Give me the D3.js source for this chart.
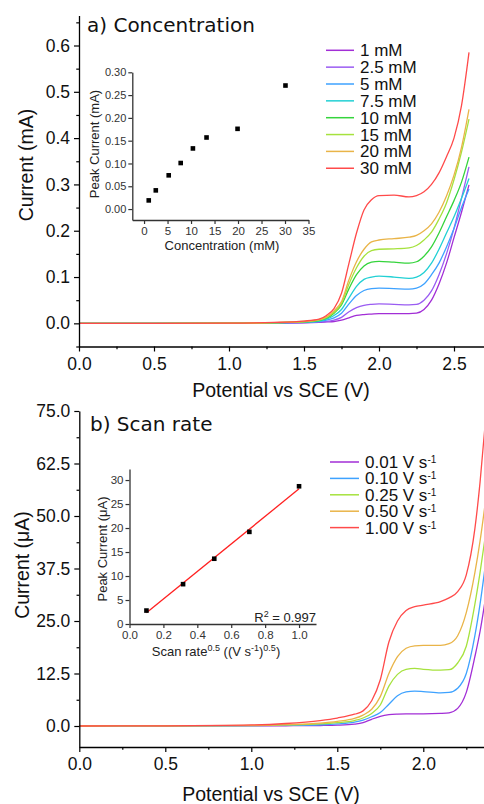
<!DOCTYPE html>
<html lang="en">
<head>
  <meta charset="UTF-8">
  <title>Concentration and scan rate</title>
  <script src="https://d3js.org/d3.v7.min.js"></script>
  <style>
    body { margin: 0; background: #fff; }
    svg { display: block; font-family: "Liberation Sans", Arial, sans-serif; }
  </style>
</head>
<body>
  <div id="chart"></div>
  <script>
    // ---- panel a) concentration : potential (V) vs current (mA)
    var topPotential = [0, 0.5, 1.0, 1.3, 1.5, 1.6, 1.65, 1.7, 1.75, 1.8, 1.85, 1.9, 1.95, 2.0, 2.1, 2.2, 2.25, 2.3, 2.35, 2.4, 2.45, 2.5, 2.55, 2.6];
    var conc1 = [0, 0, 0.0001, 0.0005, 0.001, 0.002, 0.003, 0.004, 0.007, 0.012, 0.017, 0.019, 0.020, 0.021, 0.021, 0.021, 0.022, 0.030, 0.050, 0.085, 0.130, 0.185, 0.240, 0.299];
    var conc2_5 = [0, 0, 0.0001, 0.0005, 0.0015, 0.003, 0.004, 0.007, 0.013, 0.025, 0.034, 0.039, 0.041, 0.042, 0.041, 0.040, 0.041, 0.050, 0.070, 0.105, 0.150, 0.205, 0.270, 0.338];
    var conc5 = [0, 0, 0.0002, 0.001, 0.002, 0.004, 0.007, 0.012, 0.022, 0.042, 0.060, 0.071, 0.075, 0.076, 0.075, 0.074, 0.076, 0.085, 0.105, 0.130, 0.165, 0.205, 0.250, 0.290];
    var conc7_5 = [0, 0, 0.0002, 0.001, 0.003, 0.005, 0.009, 0.017, 0.030, 0.055, 0.080, 0.095, 0.100, 0.102, 0.100, 0.097, 0.100, 0.110, 0.130, 0.160, 0.195, 0.230, 0.270, 0.313];
    var conc10 = [0, 0, 0.0003, 0.001, 0.003, 0.006, 0.011, 0.022, 0.040, 0.075, 0.105, 0.124, 0.132, 0.134, 0.132, 0.130, 0.133, 0.145, 0.165, 0.195, 0.230, 0.265, 0.305, 0.359];
    var conc15 = [0, 0, 0.0003, 0.0015, 0.004, 0.007, 0.013, 0.024, 0.043, 0.085, 0.120, 0.145, 0.157, 0.160, 0.161, 0.163, 0.168, 0.180, 0.197, 0.225, 0.260, 0.310, 0.370, 0.441];
    var conc20 = [0, 0, 0.0003, 0.0015, 0.004, 0.008, 0.014, 0.027, 0.047, 0.094, 0.133, 0.160, 0.176, 0.180, 0.183, 0.186, 0.190, 0.200, 0.215, 0.240, 0.275, 0.320, 0.380, 0.462];
    var conc30 = [0, 0, 0.0005, 0.002, 0.005, 0.009, 0.017, 0.032, 0.065, 0.130, 0.195, 0.245, 0.267, 0.276, 0.277, 0.273, 0.276, 0.284, 0.300, 0.325, 0.360, 0.400, 0.470, 0.585];
    var concLabels = ["1 mM", "2.5 mM", "5 mM", "7.5 mM", "10 mM", "15 mM", "20 mM", "30 mM"];
    var concColors = ["#a22ed6", "#9a5cf2", "#3ea2ff", "#22d0d4", "#35d43c", "#a6e23e", "#e9b448", "#ff4a4a"];

    // inset a) peak current vs concentration
    var insetConc = [1, 2.5, 5.25, 7.8, 10.4, 13.3, 19.9, 30.1];
    var insetPeakMA = [0.019, 0.041, 0.074, 0.101, 0.133, 0.157, 0.176, 0.271];

    // ---- panel b) scan rate : potential (V) vs current (uA)
    var botPotential = [0, 0.5, 1.0, 1.2, 1.4, 1.5, 1.6, 1.65, 1.7, 1.75, 1.8, 1.85, 1.9, 1.95, 2.0, 2.1, 2.15, 2.2, 2.25, 2.3, 2.33, 2.36];
    var rate001 = [0, 0, 0.03, 0.06, 0.12, 0.2, 0.45, 0.8, 1.6, 2.3, 2.7, 2.85, 2.9, 2.9, 2.9, 3.0, 3.15, 4.2, 8.0, 16.5, 22.5, 30.0];
    var rate010 = [0, 0.01, 0.07, 0.15, 0.3, 0.5, 0.9, 1.4, 2.2, 3.2, 5.2, 7.2, 8.1, 8.3, 8.2, 7.9, 8.0, 9.0, 12.5, 21.5, 29.0, 38.0];
    var rate025 = [0, 0.02, 0.1, 0.25, 0.5, 0.8, 1.3, 1.9, 3.0, 5.0, 9.5, 12.3, 13.5, 13.7, 13.5, 13.3, 13.4, 15.0, 19.0, 29.0, 36.5, 45.0];
    var rate050 = [0, 0.03, 0.15, 0.35, 0.7, 1.1, 1.8, 2.6, 4.0, 7.0, 12.5, 16.5, 18.5, 19.1, 19.2, 19.2, 19.6, 21.5, 27.0, 36.5, 44.0, 53.0];
    var rate100 = [0, 0.05, 0.25, 0.6, 1.3, 1.9, 2.8, 3.6, 6.0, 11.0, 20.0, 25.0, 27.5, 28.4, 28.8, 29.6, 30.5, 32.0, 36.0, 47.0, 58.0, 72.0];
    var rateLabels = ["0.01", "0.10", "0.25", "0.50", "1.00"];
    var rateColors = ["#a22ed6", "#3ea2ff", "#a6e23e", "#e9b448", "#ff4a4a"];

    // inset b) peak current vs sqrt(scan rate)
    var insetRootRate = [0.1, 0.316, 0.5, 0.707, 1.0];
    var insetPeakUA = [2.8, 8.3, 13.6, 19.2, 28.7];

    var svg = d3.select("#chart").append("svg")
      .attr("width", 484)
      .attr("height", 804);

    function range(a, b, s) {
      var out = [];
      for (var v = a; v <= b + s / 1000; v += s) out.push(+v.toFixed(4));
      return out;
    }

    // generic axis helper: major ticks with labels + minor ticks
    function axis(g, gen, scale, majors, minors, fmt, size, pad, fontSize, color) {
      var a = g.append("g").call(gen(scale).tickValues(majors).tickFormat(fmt)
        .tickSize(size).tickSizeOuter(0).tickPadding(pad));
      a.select(".domain").attr("stroke", color).attr("stroke-width", 1.3);
      a.selectAll(".tick line").attr("stroke", color).attr("stroke-width", 1.2);
      a.selectAll("text").attr("fill", color === "#000" ? "#111" : "#333")
        .style("font-size", fontSize + "px")
        .style("font-family", "'Liberation Sans', Arial, sans-serif");
      if (minors) {
        var m = g.append("g").call(gen(scale).tickValues(minors).tickFormat("")
          .tickSize(size * 0.55).tickSizeOuter(0));
        m.select(".domain").remove();
        m.selectAll(".tick line").attr("stroke", color).attr("stroke-width", 1.2);
      }
      return a;
    }

    function cvPanel(cfg) {
      var x = d3.scaleLinear().domain(cfg.xDomain).range(cfg.xRange);
      var y = d3.scaleLinear().domain(cfg.yDomain).range(cfg.yRange);
      var g = svg.append("g");

      g.append("clipPath").attr("id", cfg.id)
        .append("rect")
        .attr("x", x.range()[0]).attr("y", y.range()[1])
        .attr("width", x.range()[1] - x.range()[0])
        .attr("height", y.range()[0] - y.range()[1]);

      var line = d3.line()
        .x(function (d) { return x(d[0]); })
        .y(function (d) { return y(d[1]); })
        .curve(d3.curveMonotoneX);

      var curves = g.append("g").attr("clip-path", "url(#" + cfg.id + ")");
      cfg.series.forEach(function (vals, i) {
        curves.append("path")
          .datum(cfg.potential.map(function (v, k) { return [v, vals[k]]; }))
          .attr("d", line)
          .attr("fill", "none")
          .attr("stroke", cfg.colors[i])
          .attr("stroke-width", 1.3);
      });

      var gx = g.append("g").attr("transform", "translate(0," + y.range()[0] + ")");
      axis(gx, d3.axisBottom, x, cfg.xMajor, cfg.xMinor, d3.format(".1f"), 5, 6, 17.5, "#000");
      var gy = g.append("g").attr("transform", "translate(" + x.range()[0] + ",0)");
      axis(gy, d3.axisLeft, y, cfg.yMajor, cfg.yMinor, d3.format(".1f"), 5, 4, 17.5, "#000");

      g.append("text")
        .attr("x", cfg.xTitle[0]).attr("y", cfg.xTitle[1])
        .attr("text-anchor", "middle")
        .style("font-size", "19.5px").attr("fill", "#111")
        .text("Potential vs SCE (V)");
      g.append("text")
        .attr("transform", "translate(" + cfg.yTitle[0] + "," + cfg.yTitle[1] + ") rotate(-90)")
        .attr("text-anchor", "middle")
        .style("font-size", "19.5px").attr("fill", "#111")
        .text(cfg.yLabel);
      g.append("text")
        .attr("x", cfg.title[0]).attr("y", cfg.title[1])
        .style("font-family", "'DejaVu Sans', Verdana, sans-serif")
        .style("font-size", "20px").attr("fill", "#111")
        .text(cfg.titleText);

      // legend
      var lg = g.append("g");
      cfg.labels.forEach(function (lab, i) {
        var yy = cfg.legend.y + i * cfg.legend.step;
        lg.append("line")
          .attr("x1", cfg.legend.x).attr("x2", cfg.legend.x + cfg.legend.len)
          .attr("y1", yy).attr("y2", yy)
          .attr("stroke", cfg.colors[i]).attr("stroke-width", 1.5);
        var t = lg.append("text")
          .attr("x", cfg.legend.x + cfg.legend.len + 6).attr("y", yy + 6)
          .style("font-size", "17px").attr("fill", "#111");
        if (cfg.units) {
          t.append("tspan").text(lab + " V s");
          t.append("tspan").attr("dy", -5).style("font-size", "10px").text("-1");
        } else {
          t.text(lab);
        }
      });
      return g;
    }

    // ---------- panel a
    cvPanel({
      id: "clipA",
      potential: topPotential,
      series: [conc1, conc2_5, conc5, conc7_5, conc10, conc15, conc20, conc30],
      colors: concColors,
      labels: concLabels,
      xDomain: [0, 2.7], xRange: [79, 484],
      yDomain: [-0.05, 0.665], yRange: [346.5, 15.4],
      xMajor: range(0, 2.5, 0.5), xMinor: [0.25, 0.75, 1.25, 1.75, 2.25],
      yMajor: range(0, 0.6, 0.1), yMinor: [-0.05, 0.05, 0.15, 0.25, 0.35, 0.45, 0.55, 0.65],
      xTitle: [281, 396.5], yTitle: [33, 165], yLabel: "Current (mA)",
      title: [87, 31.5], titleText: "a) Concentration",
      legend: { x: 326, len: 28, y: 50.3, step: 16.85 }
    });

    // ---------- panel b
    cvPanel({
      id: "clipB",
      potential: botPotential,
      series: [rate001, rate010, rate025, rate050, rate100],
      colors: rateColors,
      labels: rateLabels,
      units: true,
      xDomain: [0, 2.353], xRange: [79.3, 484],
      yDomain: [-5, 75], yRange: [747, 411],
      xMajor: range(0, 2.0, 0.5), xMinor: [0.25, 0.75, 1.25, 1.75, 2.25],
      yMajor: range(0, 75, 12.5), yMinor: range(6.25, 68.75, 12.5),
      xTitle: [271, 801], yTitle: [28.5, 565], yLabel: "Current (\u03bcA)",
      title: [90, 431], titleText: "b) Scan rate",
      legend: { x: 330, len: 29, y: 462, step: 16.4 }
    });

    // ---------- inset a
    var ia = svg.append("g");
    var ixa = d3.scaleLinear().domain([-2.5, 35]).range([132.3, 308.5]);
    var iya = d3.scaleLinear().domain([-0.024, 0.30]).range([220, 72.3]);
    var iax = ia.append("g").attr("transform", "translate(0,220)");
    axis(iax, d3.axisBottom, ixa, range(0, 35, 5), null, d3.format("d"), 4, 3, 11.5, "#333");
    var iay = ia.append("g").attr("transform", "translate(132.3,0)");
    axis(iay, d3.axisLeft, iya, range(0, 0.3, 0.05), null, d3.format(".2f"), 4, 2, 11, "#333");
    ia.selectAll("rect.pt").data(insetConc).enter().append("rect")
      .attr("x", function (d) { return ixa(d) - 2.3; })
      .attr("y", function (d, i) { return iya(insetPeakMA[i]) - 2.3; })
      .attr("width", 4.6).attr("height", 4.6).attr("fill", "#000");
    ia.append("text").attr("x", 222).attr("y", 249.5).attr("text-anchor", "middle")
      .style("font-size", "13px").attr("fill", "#222").text("Concentration (mM)");
    ia.append("text").attr("transform", "translate(99,144) rotate(-90)").attr("text-anchor", "middle")
      .style("font-size", "13px").attr("fill", "#222").text("Peak Current (mA)");

    // ---------- inset b
    var ib = svg.append("g");
    var ixb = d3.scaleLinear().domain([0, 1.1]).range([129.5, 316]);
    var iyb = d3.scaleLinear().domain([0, 32.3]).range([624, 469]);
    var ibx = ib.append("g").attr("transform", "translate(0,624)");
    axis(ibx, d3.axisBottom, ixb, range(0, 1.0, 0.2), null, d3.format(".1f"), 4, 3, 11.5, "#333");
    var iby = ib.append("g").attr("transform", "translate(129.5,0)");
    axis(iby, d3.axisLeft, iyb, range(0, 30, 5), null, d3.format("d"), 4, 2, 11.5, "#333");

    // least squares fit of the peak currents
    var mx = d3.mean(insetRootRate), my = d3.mean(insetPeakUA);
    var sxy = d3.sum(insetRootRate, function (v, i) { return (v - mx) * (insetPeakUA[i] - my); });
    var sxx = d3.sum(insetRootRate, function (v) { return (v - mx) * (v - mx); });
    var slope = sxy / sxx, icpt = my - slope * mx;
    var fitX = d3.extent(insetRootRate);
    ib.append("line")
      .attr("x1", ixb(fitX[0])).attr("y1", iyb(icpt + slope * fitX[0]))
      .attr("x2", ixb(fitX[1])).attr("y2", iyb(icpt + slope * fitX[1]))
      .attr("stroke", "#ff2020").attr("stroke-width", 1.3);
    ib.selectAll("rect.pt").data(insetRootRate).enter().append("rect")
      .attr("x", function (d) { return ixb(d) - 2.3; })
      .attr("y", function (d, i) { return iyb(insetPeakUA[i]) - 2.3; })
      .attr("width", 4.6).attr("height", 4.6).attr("fill", "#000");

    var r2 = ib.append("text").attr("x", 316).attr("y", 621.5).attr("text-anchor", "end")
      .style("font-size", "13px").attr("fill", "#222");
    r2.append("tspan").text("R");
    r2.append("tspan").attr("dy", -5).style("font-size", "9px").text("2");
    r2.append("tspan").attr("dy", 5).text(" = 0.997");

    var xl = ib.append("text").attr("x", 216).attr("y", 656).attr("text-anchor", "middle")
      .style("font-size", "13px").attr("fill", "#222");
    xl.append("tspan").text("Scan rate");
    xl.append("tspan").attr("dy", -5).style("font-size", "9px").text("0.5");
    xl.append("tspan").attr("dy", 5).text(" ((V s");
    xl.append("tspan").attr("dy", -5).style("font-size", "9px").text("-1");
    xl.append("tspan").attr("dy", 5).text(")");
    xl.append("tspan").attr("dy", -5).style("font-size", "9px").text("0.5");
    xl.append("tspan").attr("dy", 5).text(")");

    ib.append("text").attr("transform", "translate(106.5,549) rotate(-90)").attr("text-anchor", "middle")
      .style("font-size", "13px").attr("fill", "#222").text("Peak Current (\u03bcA)");
  </script>
</body>
</html>
